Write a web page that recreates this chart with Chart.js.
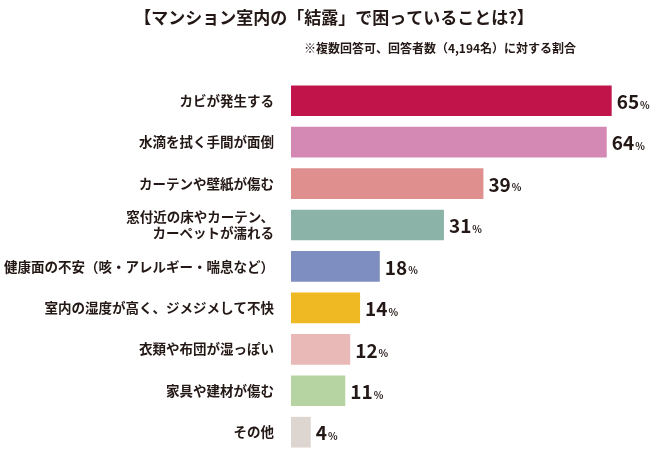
<!DOCTYPE html>
<html><head><meta charset="utf-8">
<script src="https://cdn.jsdelivr.net/npm/chart.js@4"></script>
<style>body{margin:0;background:#fff}#w{width:668px;height:470px}</style>
</head><body><div id="w"><canvas id="c"></canvas></div>
<script>
const categories=[["カビが発生する"],["水滴を拭く手間が面倒"],["カーテンや壁紙が傷む"],["窓付近の床やカーテン、","カーペットが濡れる"],["健康面の不安（咳・アレルギー・喘息など）"],["室内の湿度が高く、ジメジメして不快"],["衣類や布団が湿っぽい"],["家具や建材が傷む"],["その他"]];
const values=[65,64,39,31,18,14,12,11,4];
const colors=["#C0144A","#D489B4","#DE8F8E","#8CB3A7","#7F8EC1","#EFB923","#E8B9B7","#B6D4A1","#DDD5D0"];
const title="【マンション室内の「結露」で困っていることは?】";
const subtitle="※複数回答可、回答者数（4,194名）に対する割合";
const F='"Noto Sans CJK JP", sans-serif';
const deco={id:'deco',afterDraw(ch){const c=ch.ctx;c.save();c.fillStyle='#231815';
c.font='bold 17px '+F;c.textAlign='center';c.textBaseline='middle';c.fillText(title,334,18);
c.font='bold 12px '+F;c.fillText(subtitle,440,48);
const m=ch.getDatasetMeta(0);c.textAlign='left';
m.data.forEach((b,i)=>{const x=b.x+5;c.font='bold 19px '+F;const s=String(values[i]);c.fillText(s,x,b.y+1);const w=c.measureText(s).width;c.font='bold 10px '+F;c.fillText('%',x+w+1,b.y+4);});
c.restore();}};
new Chart(document.getElementById('c'),{type:'bar',data:{labels:categories,datasets:[{data:values,backgroundColor:colors,barPercentage:0.74,categoryPercentage:1}]},
options:{indexAxis:'y',responsive:true,maintainAspectRatio:false,animation:false,layout:{padding:{top:80,right:7,left:0,bottom:-16}},
plugins:{legend:{display:false},tooltip:{enabled:false}},
scales:{x:{display:false,min:0,max:75},y:{grid:{display:false},border:{display:false},ticks:{color:'#231815',font:{family:F,size:13.5,weight:'bold'},padding:9},afterFit(a){a.width=291;}}}},
plugins:[deco]});
</script></body></html>
